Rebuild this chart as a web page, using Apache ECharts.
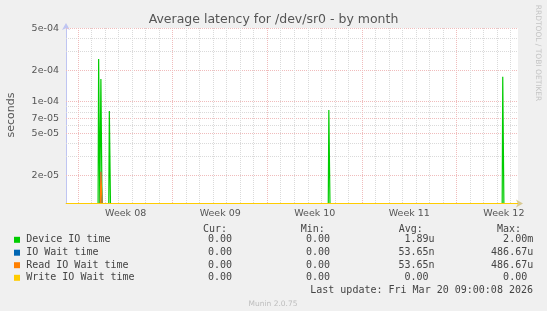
<!DOCTYPE html>
<html><head><meta charset="utf-8">
<script src="https://cdn.jsdelivr.net/npm/echarts@6/dist/echarts.min.js"></script>
<style>html,body{margin:0;padding:0;background:#f0f0f0}#c{width:547px;height:311px}</style>
</head><body><div id="c"></div><script>
// ---------- data ----------
const X_MIN = '2026-02-15T02:00:00Z';
const X_MAX = '2026-03-20T13:06:00Z';
const Y_MIN = 1.08e-5;
const Y_MAX = 5.06e-4;
const STEP_HOURS = 2;

const weekLabels = ['Week 08', 'Week 09', 'Week 10', 'Week 11', 'Week 12'];
const weekStarts = ['2026-02-16T00:00:00Z', '2026-02-23T00:00:00Z', '2026-03-02T00:00:00Z', '2026-03-09T00:00:00Z', '2026-03-16T00:00:00Z'];

const yTickValues = [5e-4, 2e-4, 1e-4, 7e-5, 5e-5, 2e-5];
const yTickLabels = ['5e-04', '2e-04', '1e-04', '7e-05', '5e-05', '2e-05'];
const yMinorValues = [4e-4, 3e-4, 9e-5, 8e-5, 6e-5, 4e-5, 3e-5];

const seriesNames = ['Device IO time', 'IO Wait time', 'Read IO Wait time', 'Write IO Wait time'];
const seriesColors = ['#00CC00', '#0066B3', '#FF8000', '#FFCC00'];

const deviceTimes = ['2026-02-17T13:00:00Z', '2026-02-17T17:00:00Z', '2026-02-18T08:00:00Z', '2026-03-06T14:00:00Z', '2026-03-19T11:00:00Z'];
const deviceValues = [2.57e-4, 1.65e-4, 8.2e-5, 8.37e-5, 1.74e-4];
const ioWaitTimes = ['2026-02-17T17:00:00Z'];
const ioWaitValues = [2.17e-5];
const readTimes = ['2026-02-17T17:00:00Z'];
const readValues = [2.17e-5];
const writeTimes = [];
const writeValues = [];

const legendCur = ['0.00', '0.00', '0.00', '0.00'];
const legendMin = ['0.00', '0.00', '0.00', '0.00'];
const legendAvg = ['1.89u', '53.65n', '53.65n', '0.00'];
const legendMax = ['2.00m', '486.67u', '486.67u', '0.00'];
const legendHeaders = ['Cur:', 'Min:', 'Avg:', 'Max:'];

const titleText = 'Average latency for /dev/sr0 - by month';
const yAxisName = 'seconds';
const lastUpdate = 'Last update: Fri Mar 20 09:00:08 2026';
const footerText = 'Munin 2.0.75';
const sideText = 'RRDTOOL / TOBI OETIKER';

// ---------- helpers ----------
const ts = s => Date.parse(s);
const HOUR = 3600e3, DAY = 24 * HOUR;
const ly = v => Math.log10(Math.max(v, Y_MIN));

function build(times, values) {
  const pts = [[ts(X_MIN), 0]];
  times.forEach((t, i) => {
    const c = ts(t);
    pts.push([c - STEP_HOURS * HOUR, 0], [c, values[i]], [c + STEP_HOURS * HOUR, 0]);
  });
  pts.push([ts(X_MAX), 0]);
  pts.sort((a, b) => a[0] - b[0]);
  return pts.map(p => [p[0], ly(p[1])]);
}

const hGrid = yTickValues.map(v => [ts(X_MIN), ly(v), 1]).concat(yMinorValues.map(v => [ts(X_MIN), ly(v), 0]));
const vGrid = [];
const d0 = ts(weekStarts[0]);
for (let t = d0 - 7 * DAY; t <= ts(X_MAX); t += DAY) {
  if (t >= ts(X_MIN)) vGrid.push([t, ly(Y_MIN), Math.round((t - d0) / DAY) % 7 === 0 ? 1 : 0]);
}

function gridRender(horizontal) {
  return function (params, api) {
    const cs = params.coordSys;
    const p = api.coord([api.value(0), api.value(1)]);
    const major = api.value(2) === 1;
    let shape;
    if (horizontal) {
      const y = Math.round(p[1] - 0.5) + 0.5;
      shape = { x1: cs.x, y1: y, x2: cs.x + cs.width, y2: y };
    } else {
      const x = Math.round(p[0] - 0.5) + 0.5;
      shape = { x1: x, y1: cs.y, x2: x, y2: cs.y + cs.height };
    }
    return { type: 'line', silent: true, shape,
      style: { stroke: major ? '#f0bcbc' : '#dadada', lineWidth: 1, lineDash: [1, 1] } };
  };
}

const weekMids = weekStarts.map(t => ts(t) + 3.5 * DAY);
function nearestIdx(arr, v) {
  let bi = 0, bd = Infinity;
  arr.forEach((a, i) => { const d = Math.abs(a - v); if (d < bd) { bd = d; bi = i; } });
  return bi;
}
const yLogTicks = yTickValues.map(v => Math.log10(v));

const SANS = "'DejaVu Sans', sans-serif";
const MONO = "'DejaVu Sans Mono', monospace";
const TEXT_COL = '#444';

// ---------- legend graphic ----------
const rowY = [239.8, 252.7, 265.2, 277.8];
const colNumEnd = [232, 330, 428.5, 527.2];
const headerX = [203, 300.8, 398.8, 496.9];
const gfx = [];
gfx.push({ type: 'text', x: 273.5, y: 19.5, silent: true,
  style: { text: titleText, fontFamily: SANS, fontSize: 12.5, fill: '#555', align: 'center', verticalAlign: 'middle' } });
gfx.push({ type: 'text', x: 11, y: 115, rotation: Math.PI / 2, silent: true,
  style: { text: yAxisName, fontFamily: SANS, fontSize: 11, fill: '#555', align: 'center', verticalAlign: 'middle' } });
gfx.push({ type: 'text', x: 538, y: 53, rotation: -Math.PI / 2, silent: true,
  style: { text: sideText, fontFamily: SANS, fontSize: 7.5, fill: '#c4c4c4', align: 'center', verticalAlign: 'middle' } });
legendHeaders.forEach((h, i) => gfx.push({ type: 'text', x: headerX[i], y: 229.3, silent: true,
  style: { text: h, fontFamily: MONO, fontSize: 10, fill: TEXT_COL, align: 'left', verticalAlign: 'middle' } }));
const cols = [legendCur, legendMin, legendAvg, legendMax];
seriesNames.forEach((name, r) => {
  gfx.push({ type: 'rect', silent: true, shape: { x: 14, y: rowY[r] - 3, width: 6, height: 6 }, style: { fill: seriesColors[r] } });
  gfx.push({ type: 'text', x: 26.2, y: rowY[r], silent: true,
    style: { text: name, fontFamily: MONO, fontSize: 10, fill: TEXT_COL, align: 'left', verticalAlign: 'middle' } });
  cols.forEach((col, c) => {
    const m = col[r].match(/^([\d.]+)(\D?)$/);
    gfx.push({ type: 'text', x: colNumEnd[c], y: rowY[r], silent: true,
      style: { text: m[1], fontFamily: MONO, fontSize: 10, fill: TEXT_COL, align: 'right', verticalAlign: 'middle' } });
    if (m[2]) gfx.push({ type: 'text', x: colNumEnd[c], y: rowY[r], silent: true,
      style: { text: m[2], fontFamily: MONO, fontSize: 10, fill: TEXT_COL, align: 'left', verticalAlign: 'middle' } });
  });
});
gfx.push({ type: 'text', x: 533, y: 290.4, silent: true,
  style: { text: lastUpdate, fontFamily: MONO, fontSize: 10, fill: TEXT_COL, align: 'right', verticalAlign: 'middle' } });
gfx.push({ type: 'text', x: 273, y: 303.6, silent: true,
  style: { text: footerText, fontFamily: SANS, fontSize: 7.5, fill: '#bdbdbd', align: 'center', verticalAlign: 'middle' } });

// ---------- chart ----------
const chart = echarts.init(document.getElementById('c'), null, { renderer: 'canvas' });
const dataSets = [build(deviceTimes, deviceValues), build(ioWaitTimes, ioWaitValues), build(readTimes, readValues), build(writeTimes, writeValues)];
const AXIS_COL = '#bfc5f2';
chart.setOption({
  backgroundColor: '#f0f0f0',
  animation: false,
  grid: { left: 66, right: 29, top: 28, bottom: 107.5, show: true, backgroundColor: '#ffffff', borderWidth: 0 },
  xAxis: {
    type: 'value', min: ts(X_MIN), max: ts(X_MAX), scale: true,
    axisLine: { show: true, lineStyle: { color: '#d8c993', width: 1 }, symbol: ['none', 'arrow'], symbolSize: [6, 7], symbolOffset: [0, 5] },
    axisTick: { show: false },
    splitLine: { show: false },
    axisLabel: { customValues: weekMids, formatter: v => weekLabels[nearestIdx(weekMids, v)],
      fontFamily: SANS, fontSize: 9.5, color: '#555', margin: 5, hideOverlap: false }
  },
  yAxis: {
    type: 'value', min: ly(Y_MIN), max: Math.log10(Y_MAX), scale: true,
    axisLine: { show: true, lineStyle: { color: AXIS_COL, width: 1 }, symbol: ['none', 'arrow'], symbolSize: [6, 7], symbolOffset: [0, 5] },
    axisTick: { show: false },
    splitLine: { show: false },
    axisLabel: { customValues: yLogTicks, formatter: v => yTickLabels[nearestIdx(yLogTicks, v)],
      fontFamily: SANS, fontSize: 9.5, color: '#555', margin: 7 }
  },
  graphic: gfx,
  series: [
    { type: 'custom', name: 'hgrid', z: 1, silent: true, renderItem: gridRender(true), data: hGrid },
    { type: 'custom', name: 'vgrid', z: 1, silent: true, renderItem: gridRender(false), data: vGrid }
  ].concat(seriesNames.map((n, i) => ({
    type: 'line', name: n, data: dataSets[i], showSymbol: false, symbol: 'none', clip: false, z: 3,
    step: 'middle', lineStyle: { color: seriesColors[i], width: 1.2 }, itemStyle: { color: seriesColors[i] }, silent: true
  })))
});
</script></body></html>
